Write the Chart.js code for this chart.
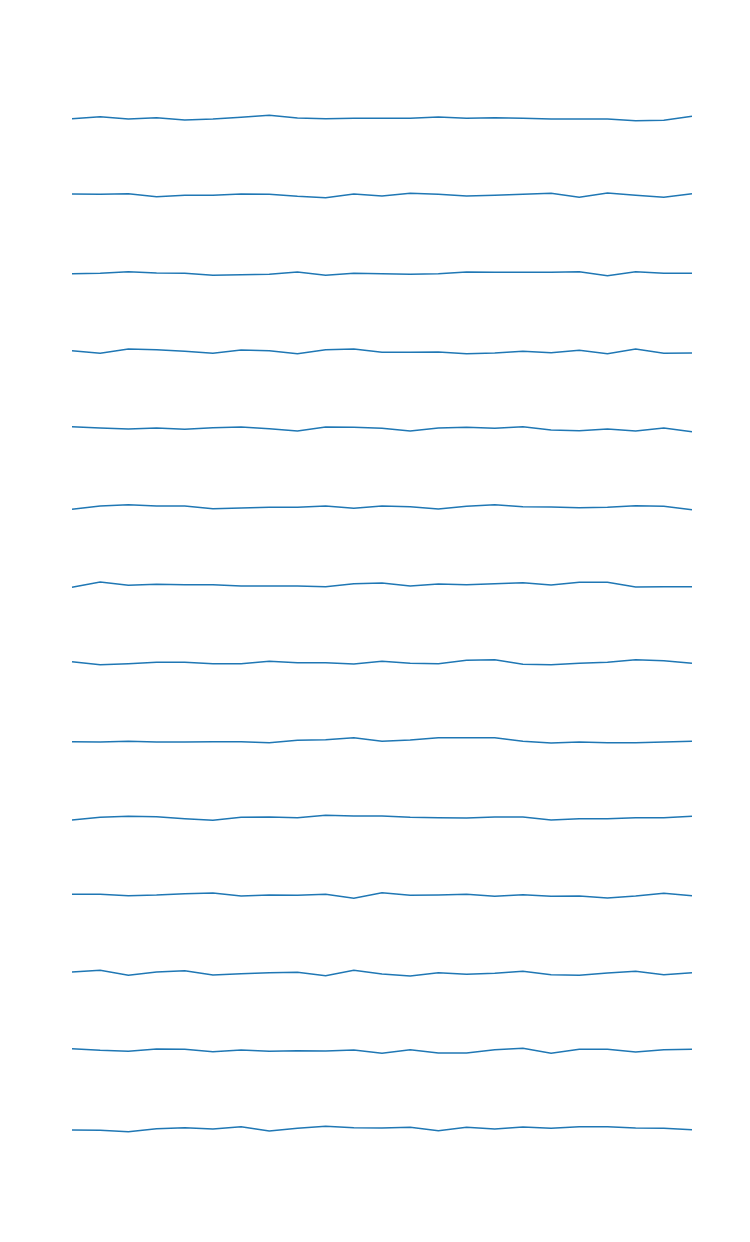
<!DOCTYPE html>
<html>
<head>
<meta charset="utf-8">
<script src="https://cdn.jsdelivr.net/npm/chart.js@4/dist/chart.umd.min.js"></script>
<style>
  html, body { margin: 0; padding: 0; background: #ffffff; }
  #wrap { position: relative; width: 750px; height: 1242px; overflow: hidden; background: #ffffff; }
  #wrap canvas { position: absolute; }
</style>
</head>
<body>
<div id="wrap"></div>
<script>
// ---- data ----
const categories = ['1','2','3','4','5','6','7','8','9','10','11','12','13','14','15','16','17','18','19','20','21','22','23'];

const series01 = [59, 65, 58, 62, 55, 58, 63, 69, 61, 59, 60, 60, 60, 64, 60, 62, 60, 58, 58, 58, 53, 54, 66];
const series02 = [64, 63, 65, 56, 60, 60, 64, 63, 57, 53, 64, 58, 66, 63, 58, 60, 63, 66, 54, 67, 60, 54, 65];
const series03 = [59, 60, 65, 61, 60, 54, 56, 57, 64, 54, 60, 59, 57, 59, 64, 63, 63, 63, 65, 53, 65, 60, 60];
const series04 = [62, 54, 67, 65, 60, 54, 64, 62, 53, 65, 67, 57, 57, 58, 53, 55, 60, 56, 63, 53, 67, 54, 55];
const series05 = [68, 64, 61, 64, 60, 65, 67, 62, 55, 67, 66, 63, 55, 64, 66, 63, 68, 58, 56, 61, 55, 64, 53];
const series06 = [57, 67, 71, 67, 67, 59, 61, 63, 63, 67, 60, 67, 65, 58, 66, 71, 65, 64, 62, 63, 68, 66, 56];
const series07 = [54, 70, 60, 63, 62, 62, 58, 58, 58, 56, 65, 67, 58, 64, 62, 65, 68, 61, 69, 69, 55, 56, 56];
const series08 = [62, 53, 56, 60, 60, 56, 56, 63, 59, 59, 55, 63, 57, 56, 66, 68, 54, 53, 57, 60, 68, 65, 57];
const series09 = [59, 58, 60, 58, 58, 59, 59, 56, 63, 65, 71, 60, 64, 71, 71, 71, 60, 55, 58, 56, 56, 58, 60];
const series10 = [55, 63, 66, 65, 59, 54, 63, 64, 62, 69, 67, 67, 63, 62, 61, 64, 64, 55, 59, 59, 62, 62, 66];
const series11 = [66, 66, 62, 64, 68, 70, 61, 64, 63, 66, 54, 71, 63, 64, 66, 60, 65, 60, 61, 55, 61, 69, 62];
const series12 = [67, 72, 57, 67, 71, 58, 62, 65, 66, 56, 72, 61, 55, 65, 60, 63, 69, 59, 57, 64, 69, 59, 65];
const series13 = [68, 63, 60, 67, 66, 59, 64, 60, 62, 61, 64, 54, 65, 55, 55, 65, 69, 54, 66, 66, 58, 65, 66];
const series14 = [58, 57, 53, 62, 65, 61, 68, 55, 63, 69, 65, 64, 66, 56, 66, 61, 67, 63, 68, 68, 64, 63, 59];

const allSeries = [series01, series02, series03, series04, series05, series06, series07,
                   series08, series09, series10, series11, series12, series13, series14];

// ---- layout (panel positions) ----
const panelTops = [105, 182, 260, 338, 416, 495, 572, 649, 728, 805, 883, 961, 1038, 1116];
const plotLeft = 72, plotWidth = 620, pad = 6;
const panelExtra = 10;          // px above/below the 26px band
const bandHeight = 26;
const unitsPerPx = 3;
const yMaxBand = 100;

const wrap = document.getElementById('wrap');

allSeries.forEach((values, i) => {
  const c = document.createElement('canvas');
  const h = bandHeight + 2 * panelExtra;
  const w = plotWidth + 2 * pad;
  c.width = w; c.height = h;
  c.style.width = w + 'px'; c.style.height = h + 'px';
  c.style.left = (plotLeft - pad) + 'px';
  c.style.top = (panelTops[i] - panelExtra) + 'px';
  wrap.appendChild(c);

  const yMax = yMaxBand + panelExtra * unitsPerPx;
  const yMin = yMax - h * unitsPerPx;

  new Chart(c.getContext('2d'), {
    type: 'line',
    data: {
      labels: categories,
      datasets: [{
        data: values,
        borderColor: '#1f77b4',
        borderWidth: 1.5,
        pointRadius: 0,
        tension: 0,
        fill: false
      }]
    },
    options: {
      responsive: false,
      animation: false,
      devicePixelRatio: 1,
      layout: { padding: { left: pad, right: pad, top: 0, bottom: 0 } },
      plugins: { legend: { display: false }, tooltip: { enabled: false }, title: { display: false } },
      scales: {
        x: { type: 'category', display: false, offset: false },
        y: { display: false, min: yMin, max: yMax }
      }
    }
  });
});
</script>
</body>
</html>
